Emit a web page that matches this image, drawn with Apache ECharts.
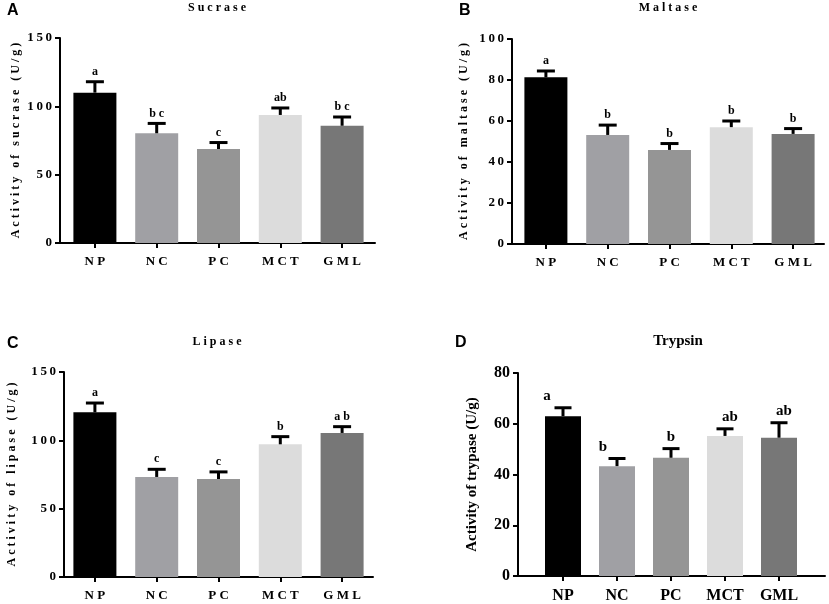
<!DOCTYPE html>
<html>
<head>
<meta charset="utf-8">
<script src="https://cdn.jsdelivr.net/npm/echarts@6/dist/echarts.min.js"></script>
<style>
  html, body { margin: 0; padding: 0; background: #ffffff; }
  #chart { width: 829px; height: 604px; }
</style>
</head>
<body>
<div id="chart"></div>
<script>
const categories = ["NP", "NC", "PC", "MCT", "GML"];
const barColors = ["#000000", "#a0a0a4", "#959595", "#dcdcdc", "#777777"];

const sucraseMean = [110, 80.3, 68.8, 93.7, 85.8];
const sucraseTop = [118, 87.5, 73.5, 98.8, 92.2];
const sucraseLetters = ["a", "b c", "c", "ab", "b c"];

const maltaseMean = [81.3, 53.2, 45.9, 57, 53.7];
const maltaseTop = [84.4, 58, 49, 60, 56.3];
const maltaseLetters = ["a", "b", "b", "b", "b"];

const lipaseMean = [120.5, 73.2, 71.7, 97.1, 105.4];
const lipaseTop = [127.3, 78.8, 76.9, 102.7, 110];
const lipaseLetters = ["a", "c", "c", "b", "a b"];

const trypsinMean = [63, 43.3, 46.6, 55.2, 54.5];
const trypsinTop = [66.3, 46.3, 50.2, 58, 60.4];
const trypsinLetters = ["a", "b", "b", "ab", "ab"];
const trypsinLetterShift = [-16, -14, 0, 5, 5];

const SERIF = "'Liberation Serif', 'Times New Roman', serif";
const SANS = "'Liberation Sans', Arial, sans-serif";

function spaced(text) {
  return text.split("").join(" ");
}

const panels = [
  {
    tag: "A", title: spaced("Sucrase"), name: spaced("Activity of sucrase (U/g)"),
    mean: sucraseMean, top: sucraseTop, letters: sucraseLetters, yMax: 150, step: 50,
    outer: { left: 60, top: 38, width: 315, height: 205 }, inner: { left: 64, width: 309 },
    tagPos: [7, 3], titlePos: [217, 2], barWidth: 43, cap: 9,
    font: 13, nameFont: 12, nameGap: 38, letterFont: 12, spacedTicks: true
  },
  {
    tag: "B", title: "M a l t a s e", name: spaced("Activity of maltase (U/g)"),
    mean: maltaseMean, top: maltaseTop, letters: maltaseLetters, yMax: 100, step: 20,
    outer: { left: 512, top: 39, width: 312, height: 205 }, inner: { left: 515, width: 309 },
    tagPos: [459, 3], titlePos: [668, 2], barWidth: 43, cap: 9,
    font: 13, nameFont: 12, nameGap: 42, letterFont: 12, spacedTicks: true
  },
  {
    tag: "C", title: spaced("Lipase"), name: spaced("Activity of lipase (U/g)"),
    mean: lipaseMean, top: lipaseTop, letters: lipaseLetters, yMax: 150, step: 50,
    outer: { left: 64, top: 372, width: 309, height: 205 }, inner: { left: 64, width: 309 },
    tagPos: [7, 336], titlePos: [217, 336], barWidth: 43, cap: 9,
    font: 13, nameFont: 12, nameGap: 46, letterFont: 12, spacedTicks: true
  },
  {
    tag: "D", title: "Trypsin", name: "Activity of trypase (U/g)",
    mean: trypsinMean, top: trypsinTop, letters: trypsinLetters, shift: trypsinLetterShift,
    yMax: 80, step: 20,
    outer: { left: 518, top: 373, width: 307, height: 203 }, inner: { left: 536, width: 270 },
    tagPos: [455, 335], titlePos: [678, 334], barWidth: 36, cap: 8.5,
    font: 16, nameFont: 15, nameGap: 38, letterFont: 15, spacedTicks: false
  }
];

const grid = [];
const xAxis = [];
const yAxis = [];
const series = [];
const title = [];

panels.forEach((p, i) => {
  const outerIdx = i * 2;
  const innerIdx = i * 2 + 1;
  grid.push({ left: p.outer.left, top: p.outer.top, width: p.outer.width, height: p.outer.height });
  grid.push({ left: p.inner.left, top: p.outer.top, width: p.inner.width, height: p.outer.height });

  const textStyle = { fontFamily: SERIF, fontWeight: "bold", color: "#000" };

  // outer grid: visible y axis and the bare x axis line
  xAxis.push({
    gridIndex: outerIdx, type: "value", min: 0, max: 1,
    axisLine: { show: true, lineStyle: { color: "#000", width: 2 } },
    axisTick: { show: false }, axisLabel: { show: false }, splitLine: { show: false }
  });
  yAxis.push({
    gridIndex: outerIdx, type: "value", min: 0, max: p.yMax, interval: p.step,
    name: p.name, nameLocation: "middle", nameGap: p.nameGap,
    nameTextStyle: Object.assign({ fontSize: p.nameFont }, textStyle),
    axisLine: { show: true, lineStyle: { color: "#000", width: 2 } },
    axisTick: { show: true, length: 5, lineStyle: { color: "#000", width: 2 } },
    axisLabel: Object.assign({
      fontSize: p.font, margin: 8,
      formatter: (v) => p.spacedTicks ? String(v).split("").join("\u2009") : String(v)
    }, textStyle),
    splitLine: { show: false }
  });

  // inner grid: category axis carrying the bars
  xAxis.push({
    gridIndex: innerIdx, type: "category", data: categories,
    axisLine: { show: false },
    axisTick: { show: true, alignWithLabel: true, length: 5, lineStyle: { color: "#000", width: 2 } },
    axisLabel: Object.assign({
      fontSize: p.font, margin: 12,
      formatter: (v) => p.spacedTicks ? spaced(v) : v
    }, textStyle)
  });
  yAxis.push({
    gridIndex: innerIdx, type: "value", min: 0, max: p.yMax, interval: p.step, show: false
  });

  series.push({
    type: "bar", xAxisIndex: innerIdx, yAxisIndex: innerIdx,
    barWidth: p.barWidth, silent: true,
    data: p.mean.map((v, k) => ({ value: v, itemStyle: { color: barColors[k] } }))
  });

  series.push({
    type: "custom", xAxisIndex: innerIdx, yAxisIndex: innerIdx, silent: true, z: 5,
    data: p.mean.map((v, k) => [k, v, p.top[k]]),
    renderItem: (params, api) => {
      const k = params.dataIndex;
      const base = api.coord([api.value(0), api.value(1)]);
      const tip = api.coord([api.value(0), api.value(2)]);
      const dx = p.shift ? p.shift[k] : 0;
      return {
        type: "group",
        children: [
          { type: "line", shape: { x1: base[0], y1: base[1], x2: tip[0], y2: tip[1] },
            style: { stroke: "#000", lineWidth: 3 } },
          { type: "line", shape: { x1: tip[0] - p.cap, y1: tip[1], x2: tip[0] + p.cap, y2: tip[1] },
            style: { stroke: "#000", lineWidth: 3 } },
          { type: "text",
            style: {
              text: p.letters[k], x: tip[0] + dx, y: tip[1] - 4,
              align: "center", verticalAlign: "bottom",
              textAlign: "center", textVerticalAlign: "bottom",
              font: "bold " + p.letterFont + "px " + SERIF, fill: "#000"
            } }
        ]
      };
    }
  });

  title.push({
    text: p.tag, left: p.tagPos[0], top: p.tagPos[1], padding: 0,
    textStyle: { fontFamily: SANS, fontWeight: "bold", fontSize: 16, color: "#000" }
  });
  title.push({
    text: p.title, left: p.titlePos[0], top: p.titlePos[1], textAlign: "center", padding: 0,
    textStyle: { fontFamily: SERIF, fontWeight: "bold", fontSize: p.tag === "D" ? 15 : 12, color: "#000" }
  });
});

const chart = echarts.init(document.getElementById("chart"), null, { renderer: "canvas" });
chart.setOption({
  animation: false,
  backgroundColor: "#ffffff",
  title,
  grid,
  xAxis,
  yAxis,
  series
});
</script>
</body>
</html>
